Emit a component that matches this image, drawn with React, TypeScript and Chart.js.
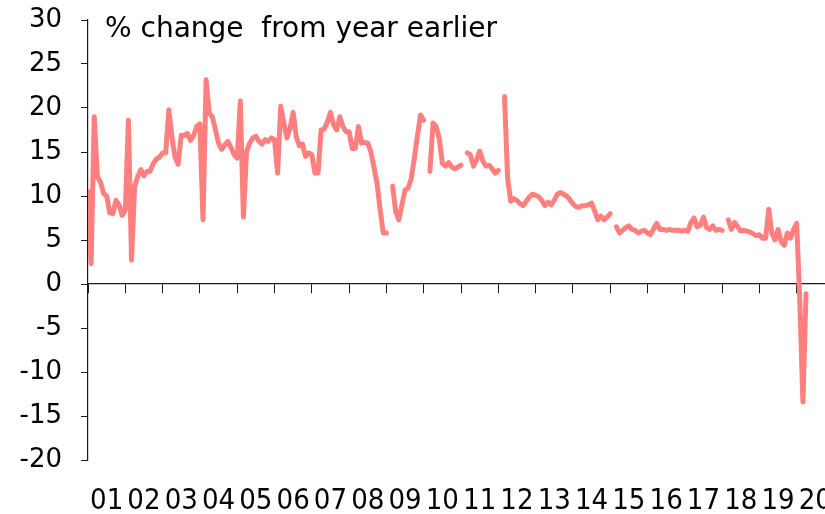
import React, { useEffect, useRef } from 'react';
import { Chart, registerables } from 'chart.js';

Chart.register(...registerables);

// Year tick labels (2001 … 2020)
const yearLabels = ['01', '02', '03', '04', '05', '06', '07', '08', '09', '10', '11', '12', '13', '14', '15', '16', '17', '18', '19', '20'];

// y-axis range / step
const yMin = -20;
const yMax = 30;
const yStep = 5;

const titleText = '% change  from year earlier';

// Monthly % change from year earlier, Jan 2001 onwards (null = gap)
const y2001 = [10.5, 2.3, 19.0, 12.2, 11.6, 10.3, 10.0, 8.1, 8.0, 9.5, 9.0, 7.8];
const y2002 = [8.4, 18.6, 2.7, 11.1, 12.2, 13.0, 12.3, 12.8, 12.8, 13.7, 14.2, 14.4];
const y2003 = [14.9, 14.9, 19.8, 16.7, 14.4, 13.6, 16.9, 16.9, 17.1, 16.3, 16.9, 17.9];
const y2004 = [18.2, 7.3, 23.2, 19.4, 19.0, 17.5, 16.0, 15.3, 15.8, 16.2, 15.5, 14.7];
const y2005 = [14.3, 20.8, 7.6, 15.0, 16.0, 16.6, 16.8, 16.2, 15.9, 16.4, 16.2, 16.6];
const y2006 = [16.4, 12.6, 20.2, 18.3, 16.6, 17.7, 19.5, 16.7, 15.7, 15.9, 14.5, 14.9];
const y2007 = [14.7, 12.6, 12.6, 17.5, 17.6, 18.4, 19.5, 18.1, 17.5, 19.0, 17.9, 17.3];
const y2008 = [17.3, 15.4, 15.4, 17.9, 16.0, 16.1, 16.0, 15.0, 13.3, 11.4, 8.4, 5.8];
const y2009 = [5.8, null, 11.1, 8.2, 7.3, 9.0, 10.7, 10.9, 12.0, 14.3, 16.9, 19.2];
const y2010 = [18.6, null, 12.8, 18.3, 17.9, 16.5, 13.7, 13.4, 13.8, 13.3, 13.1, 13.3];
const y2011 = [13.5, null, 14.9, 14.7, 13.4, 14.1, 15.1, 14.0, 13.4, 13.5, 13.1, 12.6];
const y2012 = [12.9, null, 21.3, 12.0, 9.4, 9.7, 9.5, 9.1, 8.9, 9.4, 9.9, 10.2];
const y2013 = [10.1, 9.9, 9.5, 8.9, 9.3, 9.0, 9.5, 10.2, 10.4, 10.2, 10.0, 9.6];
const y2014 = [9.1, 8.8, 8.7, 8.9, 8.9, 9.0, 9.2, 8.3, 7.3, 7.7, 7.3, 7.6];
const y2015 = [8.0, null, 6.5, 5.8, 6.1, 6.4, 6.6, 6.2, 6.1, 5.8, 6.0, 6.1];
const y2016 = [5.8, 5.6, 6.3, 6.9, 6.2, 6.2, 6.1, 6.2, 6.1, 6.1, 6.1, 6.0];
const y2017 = [6.1, 6.0, 7.0, 7.5, 6.5, 6.7, 7.6, 6.4, 6.2, 6.6, 6.1, 6.2];
const y2018 = [6.1, null, 7.3, 6.2, 7.0, 6.5, 6.0, 6.1, 6.0, 5.9, 5.7, 5.5];
const y2019 = [5.6, 5.2, 5.2, 8.5, 5.8, 5.0, 6.2, 4.8, 4.4, 5.8, 5.2, 6.2];
const y2020 = [6.9, -2.0, -13.4, -1.1];

const growth: (number | null)[] = [
  ...y2001, ...y2002, ...y2003, ...y2004, ...y2005, ...y2006, ...y2007,
  ...y2008, ...y2009, ...y2010, ...y2011, ...y2012, ...y2013, ...y2014,
  ...y2015, ...y2016, ...y2017, ...y2018, ...y2019, ...y2020,
];

const LINE_COLOR = '#FF7F7F';
const AXIS_COLOR = '#1a1a1a';
const FONT_MAIN = '"DejaVu Sans", sans-serif';
const FONT_NARROW = '"DejaVu Sans Condensed", "Liberation Sans Narrow", "DejaVu Sans", sans-serif';

const zeroPadding = (s: any) => {
  s.paddingTop = 0;
  s.paddingBottom = 0;
  s.paddingLeft = 0;
  s.paddingRight = 0;
};

export default function App() {
  const ref = useRef<HTMLCanvasElement>(null);

  useEffect(() => {
    const titlePlugin = {
      id: 'insideTitle',
      afterDraw(chart: any) {
        const { ctx, chartArea } = chart;
        ctx.save();
        ctx.font = '28px ' + FONT_MAIN;
        ctx.fillStyle = '#000';
        ctx.textBaseline = 'middle';
        ctx.textAlign = 'left';
        ctx.fillText(titleText, chartArea.left + 17, chartArea.top + 10);
        ctx.restore();
      },
    };

    const chart = new Chart(ref.current!, {
      type: 'line',
      data: {
        datasets: [
          {
            data: growth.map((v, i) => ({ x: i, y: v })) as any,
            borderColor: LINE_COLOR,
            borderWidth: 5,
            pointRadius: 0,
            spanGaps: false,
            tension: 0,
            borderJoinStyle: 'round',
            borderCapStyle: 'round',
            xAxisID: 'x',
            yAxisID: 'y',
          },
        ],
      },
      options: {
        animation: false,
        responsive: false,
        devicePixelRatio: 1,
        layout: { padding: { top: 20, right: 16, bottom: 0, left: 0 } },
        plugins: {
          legend: { display: false },
          tooltip: { enabled: false },
          title: { display: false },
        },
        scales: {
          x: {
            type: 'linear',
            position: { y: 0 } as any,
            min: 0,
            max: 240,
            afterFit: zeroPadding,
            grid: { drawOnChartArea: false, drawTicks: true, tickLength: 9, color: AXIS_COLOR },
            border: { display: true, color: AXIS_COLOR, width: 1.2 },
            ticks: { display: false, stepSize: 12, autoSkip: false },
          },
          xl: {
            type: 'linear',
            position: 'bottom',
            min: 0,
            max: 240,
            grid: { display: false },
            border: { display: false },
            afterBuildTicks: (s: any) => {
              s.ticks = yearLabels.map((_, i) => ({ value: 6 + 12 * i }));
            },
            afterFit: (s: any) => {
              s.height = 54;
              zeroPadding(s);
            },
            ticks: {
              autoSkip: false,
              maxRotation: 0,
              minRotation: 0,
              padding: 16,
              color: '#000',
              font: { family: FONT_NARROW, size: 29 },
              callback: (_v: any, i: number) => yearLabels[i],
            },
          },
          y: {
            min: yMin,
            max: yMax,
            afterFit: (s: any) => {
              s.width = 88;
              zeroPadding(s);
            },
            ticks: {
              stepSize: yStep,
              color: '#000',
              padding: 19,
              font: { family: FONT_MAIN, size: 26 },
            },
            grid: { drawOnChartArea: false, drawTicks: true, tickLength: 7, color: AXIS_COLOR },
            border: { display: true, color: AXIS_COLOR, width: 1.2 },
          },
        },
      } as any,
      plugins: [titlePlugin],
    });
    return () => chart.destroy();
  }, []);

  return (
    <div
      style={{
        position: 'absolute',
        left: 0,
        top: 0,
        width: 825,
        height: 514,
        overflow: 'hidden',
        background: '#fff',
      }}
    >
      <canvas ref={ref} width={850} height={514} style={{ display: 'block' }} />
    </div>
  );
}
